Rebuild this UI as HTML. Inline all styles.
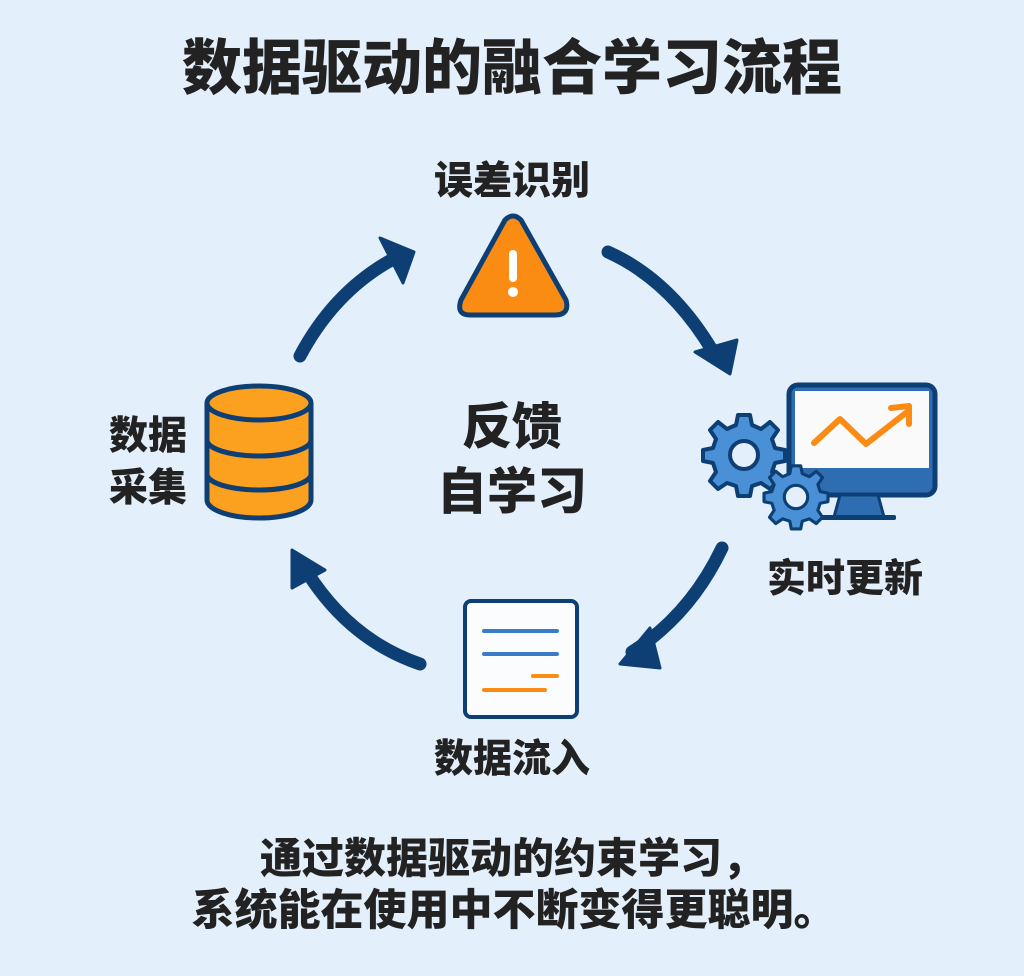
<!DOCTYPE html>
<html><head><meta charset="utf-8"><style>
html,body{margin:0;padding:0;background:#e3effa;}
svg{display:block}
text{font-family:"Liberation Sans","Noto Sans CJK SC",sans-serif;font-weight:900;fill:#222;text-anchor:middle}
</style></head><body>
<svg width="1024" height="976" viewBox="0 0 1024 976">
<rect width="1024" height="976" fill="#e3effa"/>
<text x="512" y="89" font-size="60">数据驱动的融合学习流程</text>
<text x="512" y="194" font-size="39">误差识别</text>
<text x="148" y="449" font-size="39">数据</text>
<text x="148" y="501" font-size="39">采集</text>
<text x="512" y="444" font-size="50">反馈</text>
<text x="512" y="509" font-size="50">自学习</text>
<text x="845" y="592" font-size="39">实时更新</text>
<text x="512" y="772" font-size="39">数据流入</text>
<text x="512" y="873" font-size="42">通过数据驱动的约束学习，</text>
<text x="514" y="925" font-size="43">系统能在使用中不断变得更聪明。</text>

<g fill="none" stroke="#0e3f74" stroke-width="13" stroke-linecap="round">
<path d="M300,356 Q335,290 395,258"/>
<path d="M608,252 Q670,280 712,350"/>
<path d="M722,548 Q690,615 632,652"/>
<path d="M420,664 Q350,640 307,572"/>
</g>
<g fill="#0e3f74" stroke="#0e3f74" stroke-width="3" stroke-linejoin="round">
<polygon points="380,238 414,252 403,283"/>
<polygon points="695,352 737,340 730,374"/>
<polygon points="650,628 620,664 660,668"/>
<polygon points="292,588 292,550 325,570"/>
</g>

<path d="M505,220 Q513,212 521,220 L566,300 Q570,315 555,315 L470,315 Q456,315 461,300 Z" fill="#fb8c13" stroke="#0e3f74" stroke-width="5" stroke-linejoin="round"/>
<rect x="509" y="250" width="8" height="32" rx="4" fill="#fff"/>
<circle cx="513" cy="292" r="5" fill="#fff"/>

<g stroke="#0e3f74" stroke-width="5" fill="#fba11f">
<path d="M207,403 L207,500 A52,18 0 0 0 311,500 L311,403"/>
<path d="M207,440 A52,16 0 0 0 311,440" fill="none"/>
<path d="M207,474 A52,16 0 0 0 311,474" fill="none"/>
<ellipse cx="259" cy="403" rx="52" ry="17"/>
</g>

<rect x="789" y="385" width="146" height="110" rx="9" fill="#2f6db2" stroke="#0e3f74" stroke-width="5"/>
<rect x="795" y="391" width="134" height="77" fill="#fafafa"/>
<polygon points="840,495 878,495 884,517 834,517" fill="#2f6db2" stroke="#0e3f74" stroke-width="3"/>
<rect x="818" y="515" width="78" height="5" rx="2" fill="#0e3f74"/>
<polyline points="814,443 840,419 866,444 907,412" fill="none" stroke="#fb8c13" stroke-width="6" stroke-linecap="round" stroke-linejoin="round"/>
<polyline points="891,408 909,406 909,424" fill="none" stroke="#fb8c13" stroke-width="6" stroke-linecap="round" stroke-linejoin="round"/>

<g fill="#4a90d6" stroke="#0e3f74" stroke-width="4" stroke-linejoin="round">
<g transform="translate(744,455)">
<path d="M-6,-40 L6,-40 L8,-30 L17,-26 L26,-33 L34,-25 L28,-16 L31,-7 L41,-5 L41,6 L31,8 L28,17 L34,26 L26,34 L17,28 L8,31 L6,41 L-6,41 L-8,31 L-17,28 L-26,34 L-34,26 L-28,17 L-31,8 L-41,6 L-41,-5 L-31,-7 L-28,-16 L-34,-25 L-26,-33 L-17,-26 L-8,-30 Z"/>
<circle r="14" fill="#e3effa"/>
</g>
<g transform="translate(796,497) scale(0.78)">
<path d="M-6,-40 L6,-40 L8,-30 L17,-26 L26,-33 L34,-25 L28,-16 L31,-7 L41,-5 L41,6 L31,8 L28,17 L34,26 L26,34 L17,28 L8,31 L6,41 L-6,41 L-8,31 L-17,28 L-26,34 L-34,26 L-28,17 L-31,8 L-41,6 L-41,-5 L-31,-7 L-28,-16 L-34,-25 L-26,-33 L-17,-26 L-8,-30 Z"/>
<circle r="15" fill="#e3effa"/>
</g>
</g>

<rect x="465" y="601" width="112" height="116" rx="6" fill="#fbfcfe" stroke="#0e3f74" stroke-width="4"/>
<g stroke-width="4" stroke-linecap="round">
<line x1="484" y1="631" x2="557" y2="631" stroke="#3b7cc9"/>
<line x1="484" y1="654" x2="557" y2="654" stroke="#3b7cc9"/>
<line x1="533" y1="676" x2="557" y2="676" stroke="#fb8c13"/>
<line x1="484" y1="690" x2="545" y2="690" stroke="#fb8c13"/>
</g>
</svg>
</body></html>
